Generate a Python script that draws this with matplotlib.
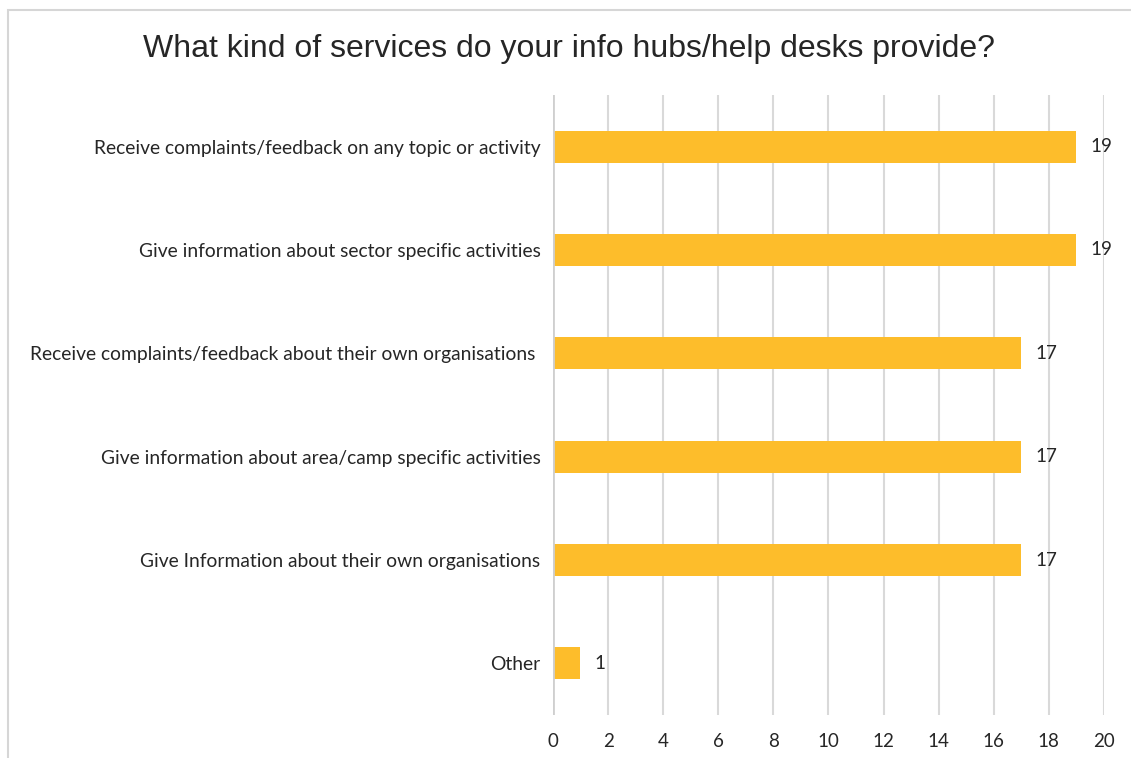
import matplotlib.pyplot as plt
from matplotlib.patches import Rectangle

categories = ['Receive complaints/feedback on any topic or activity',
              'Give information about sector specific activities',
              'Receive complaints/feedback about their own organisations ',
              'Give information about area/camp specific activities',
              'Give Information about their own organisations',
              'Other']
counts = [19, 19, 17, 17, 17, 1]
x_ticks = list(range(0, 21, 2))

bar_color = '#FDBD2B'
grid_color = '#D9D9D9'
text_color = '#262626'

fig = plt.figure(figsize=(11.31, 7.58), dpi=100)
ax = fig.add_axes([0.4889, 0.0567, 0.4872, 0.818])

# top category first
ypos = list(range(len(categories)))[::-1]
bars = ax.barh(ypos, counts, height=0.31, color=bar_color, zorder=3)

for bar, val in zip(bars, counts):
    ax.text(bar.get_width() + 0.5, bar.get_y() + bar.get_height() / 2, str(val),
            ha='left', va='center', fontsize=13.5, family='Lato', color=text_color)

ax.set_xlim(0, 20)
ax.set_ylim(-0.5, len(categories) - 0.5)
ax.set_xticks(x_ticks)
ax.set_xticklabels([str(t) for t in x_ticks], fontsize=13.5, family='Lato', color=text_color)
ax.set_yticks(ypos)
ax.set_yticklabels(categories, fontsize=13.9, family='Lato', color=text_color)
ax.tick_params(axis='both', length=0)
ax.tick_params(axis='x', pad=13)
ax.tick_params(axis='y', pad=9)

for s in ax.spines.values():
    s.set_visible(False)
ax.xaxis.grid(True, color=grid_color, linewidth=1.5, zorder=0)
ax.axvline(0, color='#CFCFCF', linewidth=2, zorder=4)

fig.text(0.503, 0.936, 'What kind of services do your info hubs/help desks provide?',
         ha='center', va='center', fontsize=23, family='Liberation Sans', color=text_color)

# chart frame, cut off on the right and bottom
fig.patches.append(Rectangle((8 / 1131, -0.05), 1.2, 1 - 10 / 758 + 0.05,
                             transform=fig.transFigure, fill=False,
                             edgecolor='#D6D6D6', linewidth=1.5))

fig.savefig('out.png', dpi=100)
